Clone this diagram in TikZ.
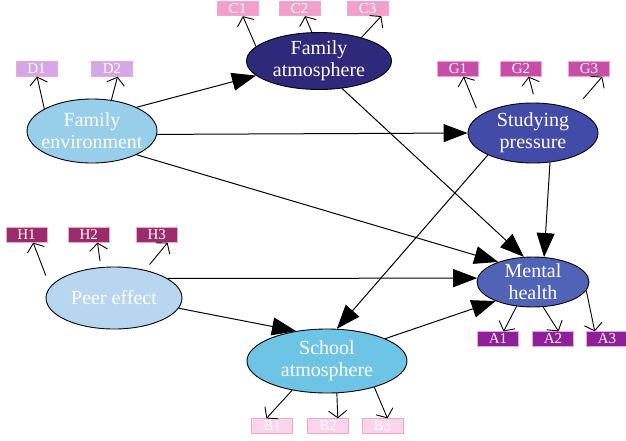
\documentclass[tikz,border=0pt]{standalone}
\usepackage{fontspec}
\setmainfont{Liberation Serif}
\usepackage{xcolor}
\usetikzlibrary{shapes.geometric, arrows.meta}

\definecolor{envblue}{HTML}{97CFEB}
\definecolor{atmnavy}{HTML}{2E297A}
\definecolor{studyblue}{HTML}{434BA8}
\definecolor{peerblue}{HTML}{B8D6EF}
\definecolor{schoolblue}{HTML}{6EC4E5}
\definecolor{mentalblue}{HTML}{5163B6}
\definecolor{boxedge}{HTML}{F4A6CC}
\definecolor{cpink}{HTML}{F29FC9}
\definecolor{dlilac}{HTML}{D4A7E8}
\definecolor{gmagenta}{HTML}{C74DA9}
\definecolor{hplum}{HTML}{9A2C69}
\definecolor{apurple}{HTML}{8D1F9B}
\definecolor{bpink}{HTML}{FBD5EB}

\begin{document}
\begin{tikzpicture}[x=1pt, y=-1pt,
  latent/.style={ellipse, draw=black, line width=0.9pt, inner xsep=-10pt, inner ysep=-8pt, text=white, align=center, font=\fontsize{20}{22}\selectfont},
  item/.style={rectangle, draw=boxedge, line width=0.8pt, minimum width=41pt, minimum height=14.5pt, inner sep=0pt, text=white, font=\fontsize{15}{15}\selectfont},
  effect/.style={line width=1pt, -{Triangle[length=24pt,width=18pt]}},
  loading/.style={line width=0.9pt, -{Straight Barb[length=7pt,width=18pt]}}]
\useasboundingbox (0,0) rectangle (626,440);
% Latent variables
\node[latent, fill=envblue, minimum width=130pt, minimum height=64pt] (fenv) at (92,131) {Family\\environment};
\node[latent, fill=atmnavy, minimum width=145pt, minimum height=57pt] (fatm) at (319,61) {Family\\atmosphere};
\node[latent, fill=studyblue, minimum width=130pt, minimum height=60pt] (sp) at (533,133) {Studying\\pressure};
\node[latent, fill=peerblue, minimum width=136pt, minimum height=62pt] (peer) at (114,298) {Peer effect};
\node[latent, fill=schoolblue, minimum width=160pt, minimum height=64pt] (sch) at (327,361) {School\\atmosphere};
\node[latent, fill=mentalblue, minimum width=112pt, minimum height=50pt] (mh) at (533,282) {Mental\\health};
% Observed items
\foreach \n/\x in {C1/237.5, C2/299.5, C3/367.5}
  \node[item, fill=cpink] (\n) at (\x,8.5) {\n};
\foreach \n/\x in {D1/36.5, D2/112}
  \node[item, fill=dlilac] (\n) at (\x,69) {\n};
\foreach \n/\x in {G1/458, G2/521, G3/589}
  \node[item, fill=gmagenta] (\n) at (\x,69) {\n};
\foreach \n/\x in {H1/26.5, H2/88.7, H3/156.7}
  \node[item, fill=hplum] (\n) at (\x,235) {\n};
\foreach \n/\x in {A1/498, A2/553, A3/607}
  \node[item, fill=apurple] (\n) at (\x,339) {\n};
\foreach \n/\x in {B1/272, B2/328, B3/382.5}
  \node[item, fill=bpink] (\n) at (\x,426) {\n};
% Loadings (latent -> item)
\foreach \lv/\a/\it/\b/\gap in {fenv/155/D1/-86/0, fenv/58/D2/-54/0,
    fatm/167/C1/-55/0, fatm/104/C2/-54/0, fatm/29/C3/-29/0,
    sp/162/G1/-54/8, sp/85/G2/-45/9, sp/30/G3/-30/14,
    peer/170/H1/-49/12, peer/113/H2/-41/6, peer/42/H3/-35/7} {
  \draw[loading, shorten <=\gap pt] (\lv.\a) -- (\it.\b);
}
\foreach \lv/\a/\it/\b in {mh/-124/A1/54, mh/-68/A2/54, mh/-9/A3/148,
    sch/-140/B1/126, sch/-73/B2/38, sch/-29/B3/57} {
  \draw[loading] (\lv.\a) -- (\it.\b);
}
% Structural paths
\draw[effect] (fenv.28) -- (fatm.-167);
\draw[effect] (fenv.-3) -- (sp.180);
\draw[effect] (fenv.-28) -- (mh.150);
\draw[effect] (fatm.-50) -- (mh.110);
\draw[effect] (sp.-60) -- (mh.66);
\draw[effect] (sp.-154) -- (sch.73);
\draw[effect] (peer.20) -- (mh.176);
\draw[effect] (peer.-9) -- (sch.136);
\draw[effect] (sch.21) -- (mh.-153);
\end{tikzpicture}
\end{document}
